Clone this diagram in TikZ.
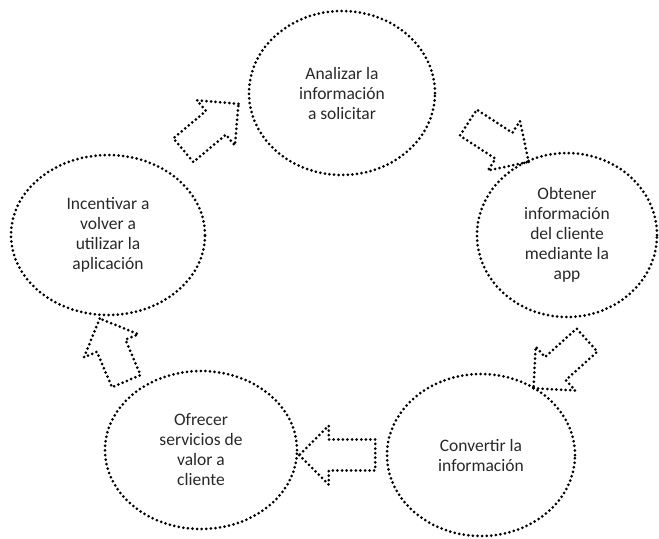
\documentclass[tikz,border=0pt]{standalone}
\usepackage{fontspec}
\setmainfont{Carlito}
\usepackage{tikz}
\usetikzlibrary{shapes.geometric,shapes.arrows}
\definecolor{txt_grey}{RGB}{40, 40, 40}
\tikzstyle{dots}=[draw=black,line width=1.5pt,line cap=round,
  dash pattern=on 0pt off 2.3pt]
\tikzstyle{bubble}=[ellipse,style=dots,inner sep=0pt,align=center,
  text=txt_grey,font=\fontsize{8.75}{10}\selectfont]
\tikzstyle{blockarrow}=[single arrow,style=dots,inner xsep=0pt,inner ysep=7pt,
  minimum height=36pt,single arrow head extend=7pt]

\begin{document}
\begin{tikzpicture}[x=0.5pt,y=-0.5pt]
    \useasboundingbox (0,0) rectangle (659,538);
    \node [style=bubble,minimum width=93pt,minimum height=82pt] (analizar) at (342,93)
      {Analizar la\\información\\a solicitar};
    \node [style=bubble,minimum width=90pt,minimum height=82pt] (obtener) at (567,235)
      {Obtener\\información\\del cliente\\mediante la\\app};
    \node [style=bubble,minimum width=94pt,minimum height=81pt] (convertir) at (481,455)
      {Convertir la\\información};
    \node [style=bubble,minimum width=96pt,minimum height=79pt] (ofrecer) at (201,450)
      {Ofrecer\\servicios de\\valor a\\cliente};
    \node [style=bubble,minimum width=97pt,minimum height=80pt] (incentivar) at (108,235)
      {Incentivar a\\volver a\\utilizar la\\aplicación};
    \node [style=blockarrow,rotate=40] (a1) at (205,132) {};
    \node [style=blockarrow,rotate=-33] (a2) at (492,138) {};
    \node [style=blockarrow,rotate=222] (a3) at (566,359) {};
    \node [style=blockarrow,rotate=180,minimum height=38pt] (a4) at (345,455) {};
    \node [style=blockarrow,rotate=113,minimum height=34pt] (a5) at (116,357) {};
  \end{tikzpicture}
\end{document}
